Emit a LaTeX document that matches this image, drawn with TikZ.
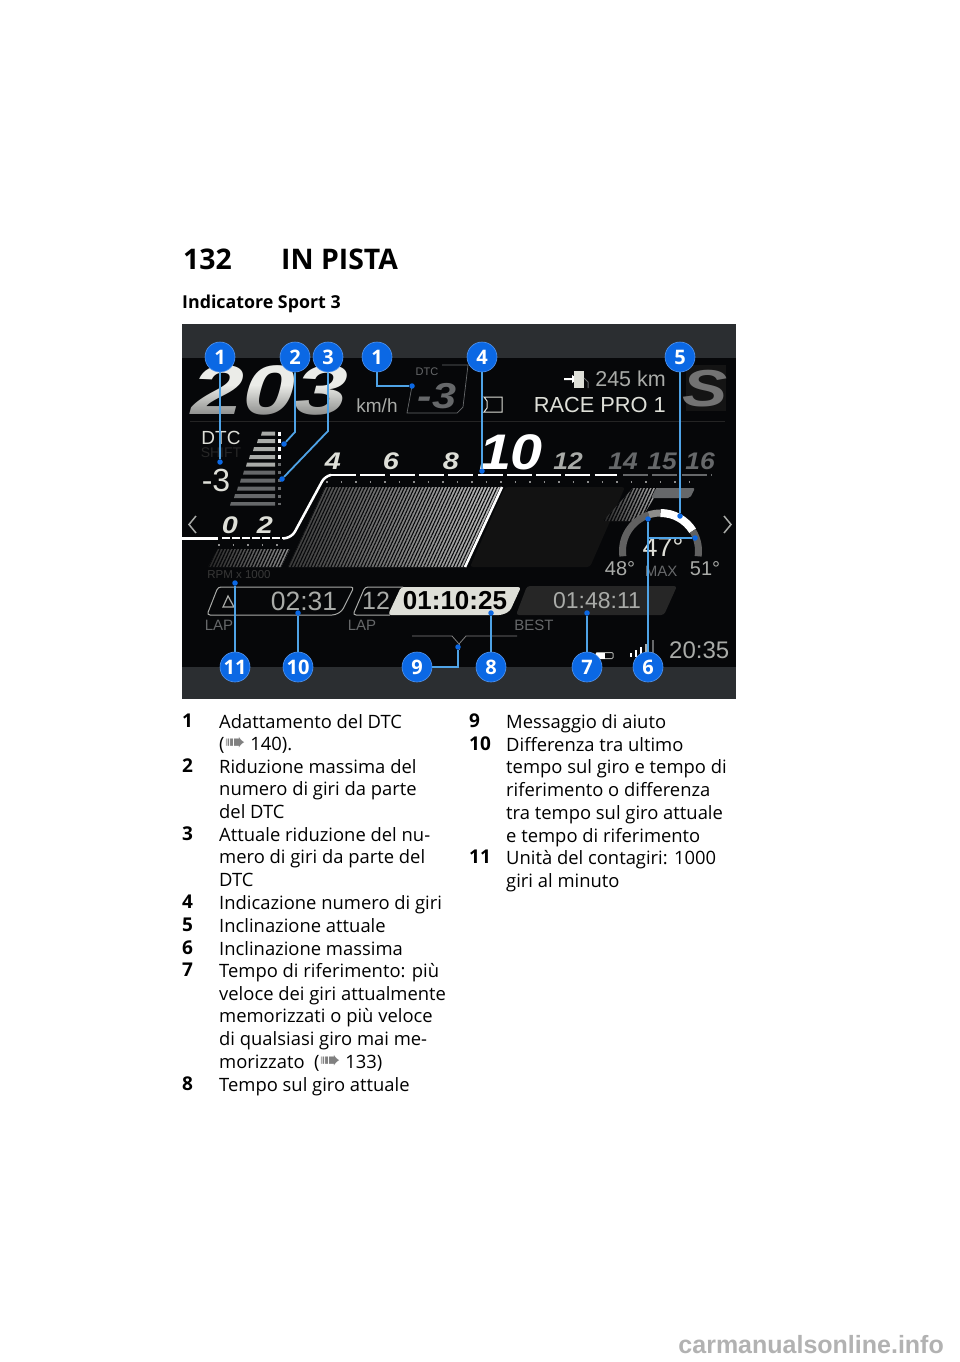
\documentclass[tikz,border=0pt]{standalone}
\usepackage{fontspec}
\setmainfont{Open Sans}
\newfontfamily\hud{Liberation Sans}
\newfontfamily\symb{DejaVu Sans}
\usetikzlibrary{patterns.meta,fadings}
\definecolor{band}{HTML}{2B2E31}
\definecolor{screen}{HTML}{060709}
\definecolor{mark}{HTML}{0B68E4}
\definecolor{leadc}{HTML}{4FA3E6}
\definecolor{hudgray}{HTML}{A9ABA8}
\definecolor{hudlight}{HTML}{DEDFD8}
\definecolor{huddim}{HTML}{66686A}
\newcommand{\refarrow}{{\symb\fontsize{25}{22.7}\selectfont\color{gray}\char"27A0}}
\tikzset{
  badge/.style={circle,fill=mark,draw=mark!70!white,line width=0.6pt,text=white,minimum size=30pt,inner sep=0pt,font=\fontsize{20}{20}\selectfont\bfseries},
  tip/.style={circle,fill=mark,inner sep=0pt,minimum size=5.5pt},
  lead/.style={draw=leadc,line width=1.8pt},
  hudtxt/.style={font=\hud\fontsize{#1}{#1}\selectfont,inner sep=0pt},
  hudbold/.style={font=\hud\bfseries\itshape\fontsize{#1}{#1}\selectfont,inner sep=0pt},
  num/.style={anchor=north west,inner sep=0pt,font=\fontsize{19}{22.7}\selectfont\bfseries},
  item/.style={anchor=north west,inner sep=0pt,align=left,font=\fontsize{18.4}{22.7}\selectfont}
}
\begin{document}
\begin{tikzpicture}[x=1pt,y=-1pt]
\useasboundingbox (0,0) rectangle (960,1362);
\fill[white] (0,0) rectangle (960,1362);
% heading
\node[anchor=base west,inner sep=0pt,font=\fontsize{28.4}{29}\selectfont\bfseries] (page)at(183,269){132};
\node[anchor=base west,inner sep=0pt,font=\fontsize{28.4}{29}\selectfont\bfseries] (chapter)at(281,269){IN PISTA};
\node[anchor=base west,inner sep=0pt,font=\fontsize{17.8}{19}\selectfont\bfseries] (title)at(182,308){Indicatore Sport 3};
% screen
\fill[screen] (182,324) rectangle (736,699);
\fill[band] (182,324) rectangle (736,358);
\fill[band] (182,667) rectangle (736,699);
\draw[color=black!86!white,line width=0.6pt] (190,421)--(725,421);
% hatched areas
\shade[left color=black!78,right color=black!25] (325,487)--(502,487)--(465,567)--(288,567)--cycle;
\fill[pattern={Lines[angle=65,distance=3pt,line width=1.1pt]},pattern color=screen] (325,487)--(502,487)--(465,567)--(288,567)--cycle;
\draw[white,line width=2.5pt] (502,487)--(465,567);
\fill[black!93!white,rounded corners=3pt] (505,487)--(625,487)--(590,567)--(470,567)--cycle;
\shade[left color=black!85,right color=black!45] (218,549)--(290,549)--(281,567)--(208,567)--cycle;
\fill[pattern={Lines[angle=65,distance=3pt,line width=1.3pt]},pattern color=screen] (218,549)--(290,549)--(281,567)--(208,567)--cycle;
\shade[left color=black!85,right color=black!30] (633,488)--(660,488)--(640,521)--(603,521)--cycle;
\fill[pattern={Lines[angle=65,distance=3pt,line width=1.3pt]},pattern color=screen] (633,488)--(660,488)--(640,521)--(603,521)--cycle;
\fill[huddim,rounded corners=2pt] (656,488)--(695,488)--(690,498)--(651,498)--cycle;
% speed
\node[font=\hud\bfseries\fontsize{70}{70}\selectfont,inner sep=0pt,text=hudlight!60!white,xscale=1.33,xslant=0.2] (speed)at(271,390){203};
\fill[screen,opacity=0.45,path fading=north] (186,385) rectangle (354,418);
\node[hudtxt=19,text=hudgray] (unit)at(377,406){km/h};
\draw[huddim,line width=0.7pt] (442,365)--(468,365)--(463,407)--(457,413)--(407,413)--(412,386);
\node[hudtxt=11,text=huddim] (dtcsmall)at(427,372){DTC};
\node[hudbold=36,text=huddim,xscale=1.2] (dtcbig)at(437,396){-3};
% range and mode
\fill[white] (564,378)--(572,378)--(572,375)--(578,379)--(572,383)--(572,380)--(564,380)--cycle;
\fill[hudlight] (574,371) rectangle (584,388);
\draw[huddim,line width=1pt] (584,378)--(588,382)--(588,388);
\node[hudtxt=21.5,text=hudgray,anchor=east] (range)at(666,379){245 km};
\node[hudtxt=21.8,text=hudlight,anchor=east] (mode)at(666,405){RACE PRO 1};
\fill[black!92!white] (686,365) rectangle (726,411);
\node[hudbold=52,text=black!55!white,xscale=1.3] (gear)at(705,389){S};
\draw[hudlight,line width=1pt] (484,397)--(502,397)--(502,412)--(484,412)--(487,408)--(487,401)--cycle;
% dtc column
\node[hudtxt=19,text=hudlight] (dtc)at(221,438){DTC};
\node[hudtxt=14,text=black!85!white] (shift)at(221,453){SHIFT};
\node[hudtxt=32,text=hudlight] (dtcval)at(216,480){-3};
\fill[hudgray] (262,431.5)--(275,431.5)--(275,435.5)--(261,435.5)--cycle;
\fill[hudgray] (258,439)--(275,439)--(275,443)--(257,443)--cycle;
\fill[hudgray] (254,447)--(275,447)--(275,451)--(253,451)--cycle;
\fill[hudgray] (250,455)--(275,455)--(275,459)--(249,459)--cycle;
\fill[hudgray] (247,462.5)--(275,462.5)--(275,466.5)--(246,466.5)--cycle;
\fill[huddim] (244,470.5)--(275,470.5)--(275,474.5)--(243,474.5)--cycle;
\fill[huddim] (241,478.5)--(275,478.5)--(275,482.5)--(240,482.5)--cycle;
\fill[huddim] (238,486.5)--(275,486.5)--(275,490.5)--(237,490.5)--cycle;
\fill[huddim] (235,494)--(275,494)--(275,498)--(234,498)--cycle;
\fill[huddim] (231,502)--(275,502)--(275,505.5)--(230,505.5)--cycle;
\draw[white,line width=3.5pt,dash pattern=on 4pt off 3.9pt] (279.5,431.5)--(279.5,462);
\draw[huddim,line width=2.5pt,dash pattern=on 3pt off 4.9pt] (279.5,463)--(279.5,505);
% rev scale
\node[hudbold=24,text=hudlight,xscale=1.2] (r4)at(333,461){4};
\node[hudbold=24,text=hudlight,xscale=1.2] (r6)at(391,461){6};
\node[hudbold=24,text=hudlight,xscale=1.2] (r8)at(451,461){8};
\node[hudbold=50,text=white,xscale=1.15] (r10)at(511,452){10};
\node[hudbold=24,text=hudgray,xscale=1.1] (r12)at(568,461){12};
\node[hudbold=24,text=huddim,xscale=1.1] (r14)at(623,461){14};
\node[hudbold=24,text=huddim,xscale=1.1] (r15)at(662,461){15};
\node[hudbold=24,text=huddim,xscale=1.1] (r16)at(700,461){16};
\draw[white,line width=2.5pt] (182,538.5)--(218,538.5);
\draw[white,line width=2.5pt,rounded corners=6pt] (283,538.5)--(292,537)--(325,476)--(331,475);
\draw[white,line width=2.5pt,dash pattern=on 25pt off 4.3pt] (331,475)--(617,475);
\draw[huddim,line width=2pt,dash pattern=on 25pt off 4.3pt] (623,475)--(712,475);
\draw[white,line width=2.5pt,dash pattern=on 7.5pt off 2.5pt] (222,538)--(283,538);
\draw[black!45!white,line width=1.5pt,dash pattern=on 1.5pt off 13pt] (326,482)--(700,482);
\draw[black!45!white,line width=1.5pt,dash pattern=on 1.5pt off 13pt] (218,545)--(282,545);
\node[hudbold=24,text=hudlight,xscale=1.2] (r0)at(230,525){0};
\node[hudbold=24,text=hudlight,xscale=1.2] (r2)at(265,525){2};
\draw[hudgray,line width=1.5pt] (196,516)--(189,524.5)--(196,533);
\draw[hudgray,line width=1.5pt] (724,516)--(731,524.5)--(724,533);
\node[hudtxt=11.5,text=black!78!white] (rpm)at(239,575){RPM x 1000};
% lean gauge
\coordinate (gc)at(660.5,551);
\draw[black!62!white,line width=7pt] (gc)++(188:38pt) arc[start angle=188,end angle=108,radius=38pt];
\draw[black!45!white,line width=7pt] (gc)++(108:38pt) arc[start angle=108,end angle=90,radius=38pt];
\draw[white,line width=8pt] (gc)++(90:38pt) arc[start angle=90,end angle=32,radius=38pt];
\draw[black!62!white,line width=7pt] (gc)++(32:38pt) arc[start angle=32,end angle=-8,radius=38pt];
\node[hudtxt=27,text=hudlight] (leannow)at(663,547){47°};
\node[hudtxt=20,text=hudgray] (leanl)at(620,569){48°};
\node[hudtxt=15,text=huddim] (leanmax)at(661,571){MAX};
\node[hudtxt=20,text=hudgray] (leanr)at(705,569){51°};
% lap boxes
\draw[hudgray,line width=1pt,rounded corners=3pt] (218,587)--(354,587)--(342,611)--(335,615)--(207,615)--cycle;
\draw[hudgray,line width=1.2pt] (223,607)--(228,596)--(234,607)--cycle;
\node[hudtxt=26.5,text=hudgray] (lastlap)at(304,601){02:31};
\node[hudtxt=15,text=huddim] (lapa)at(219,625){LAP};
\draw[hudgray,line width=1pt,rounded corners=3pt] (403,587)--(365,587)--(353,615)--(390,615);
\node[hudtxt=25,text=hudgray] (lapno)at(376,601){12};
\fill[hudlight,rounded corners=3pt] (401,587)--(521,587)--(510,611)--(502,615)--(388,615)--cycle;
\node[font=\hud\bfseries\fontsize{26}{26}\selectfont,inner sep=0pt,text=black] (laptime)at(455,601){01:10:25};
\node[hudtxt=15,text=huddim] (lapb)at(362,625){LAP};
\fill[black!85!white,rounded corners=3pt] (527,586)--(677,586)--(664,615)--(516,615)--cycle;
\node[hudtxt=23,text=hudgray] (besttime)at(597,601){01:48:11};
\node[hudtxt=15,text=huddim] (best)at(534,625){BEST};
% help and status
\draw[black!50!white,line width=0.8pt] (412,636)--(452,636)--(459,644)--(466,636)--(517,636);
\draw[black!50!white,line width=0.8pt] (459,644)--(459,650);
\draw[hudgray,line width=1pt,rounded corners=1pt] (596,652.5) rectangle (613,658.5);
\fill[white] (596,652.5) rectangle (605,658.5);
\fill[white] (630,653) rectangle (632,657);
\fill[white] (635,650) rectangle (637,657);
\fill[white] (640,647) rectangle (642,657);
\fill[hudgray] (645,644) rectangle (647,657);
\fill[huddim] (652,640) rectangle (654,657);
\node[hudtxt=24,text=hudgray,anchor=west] (clock)at(669,650){20:35};
% callouts
\node[badge] (b1)at(220,357){1};
\node[badge] (b2)at(295,357){2};
\node[badge] (b3)at(328,357){3};
\node[badge] (c1)at(377,357){1};
\node[badge] (b4)at(482,357){4};
\node[badge] (b5)at(680,357){5};
\node[badge] (b11)at(235,667){11};
\node[badge] (b10)at(298,667){10};
\node[badge] (b9)at(417,667){9};
\node[badge] (b8)at(491,667){8};
\node[badge] (b7)at(587,667){7};
\node[badge] (b6)at(648,667){6};
\node[tip] (t1)at(220,462){};
\node[tip] (t2)at(284,444){};
\node[tip] (t3)at(282,479){};
\node[tip] (u1)at(412,386){};
\node[tip] (t4)at(482,471){};
\node[tip] (t5)at(680,516){};
\node[tip] (t6)at(648,519){};
\node[tip] (v6)at(695,538){};
\node[tip] (t7)at(587,613){};
\node[tip] (t8)at(491,613){};
\node[tip] (t9)at(458,647){};
\node[tip] (t10)at(298,613){};
\node[tip] (t11)at(235,583){};
\coordinate (k2)at(295,432);
\coordinate (k3)at(328,431);
\coordinate (k6)at(648,538);
\draw[lead] (b1)--(t1);
\draw[lead] (b2)--(k2)--(t2);
\draw[lead] (b3)--(k3)--(t3);
\draw[lead] (c1)|-(u1);
\draw[lead] (b4)--(t4);
\draw[lead] (b5)--(t5);
\draw[lead] (t6)--(b6);
\draw[lead] (k6)--(v6);
\draw[lead] (b7)--(t7);
\draw[lead] (b8)--(t8);
\draw[lead] (b9)-|(t9);
\draw[lead] (b10)--(t10);
\draw[lead] (b11)--(t11);
% legend
\node[num] (n1)at(182,714){1};
\node[item] (i1)at(219,714){Adattamento del DTC\\(\refarrow{} 140).};
\node[num] (n2)at(182,759){2};
\node[item] (i2)at(219,759){Riduzione massima del\\numero di giri da parte\\del DTC};
\node[num] (n3)at(182,827){3};
\node[item] (i3)at(219,827){Attuale riduzione del nu-\\mero di giri da parte del\\DTC};
\node[num] (n4)at(182,895){4};
\node[item] (i4)at(219,895){Indicazione numero di giri};
\node[num] (n5)at(182,918){5};
\node[item] (i5)at(219,918){Inclinazione attuale};
\node[num] (n6)at(182,941){6};
\node[item] (i6)at(219,941){Inclinazione massima};
\node[num] (n7)at(182,963){7};
\node[item] (i7)at(219,963){Tempo di riferimento: più\\veloce dei giri attualmente\\memorizzati o più veloce\\di qualsiasi giro mai me-\\morizzato \ (\refarrow{} 133)};
\node[num] (n8)at(182,1077){8};
\node[item] (i8)at(219,1077){Tempo sul giro attuale};
\node[num] (n9)at(469,714){9};
\node[item] (i9)at(506,714){Messaggio di aiuto};
\node[num] (n10)at(469,737){10};
\node[item] (i10)at(506,737){Differenza tra ultimo\\tempo sul giro e tempo di\\riferimento o differenza\\tra tempo sul giro attuale\\e tempo di riferimento};
\node[num] (n11)at(469,850){11};
\node[item] (i11)at(506,850){Unità del contagiri: 1000\\giri al minuto};
% footer
\node[anchor=east,inner sep=0pt,text=black!30!white,font=\hud\bfseries\fontsize{25}{25}\selectfont] (site)at(944,1345){carmanualsonline.info};
\end{tikzpicture}
\end{document}
